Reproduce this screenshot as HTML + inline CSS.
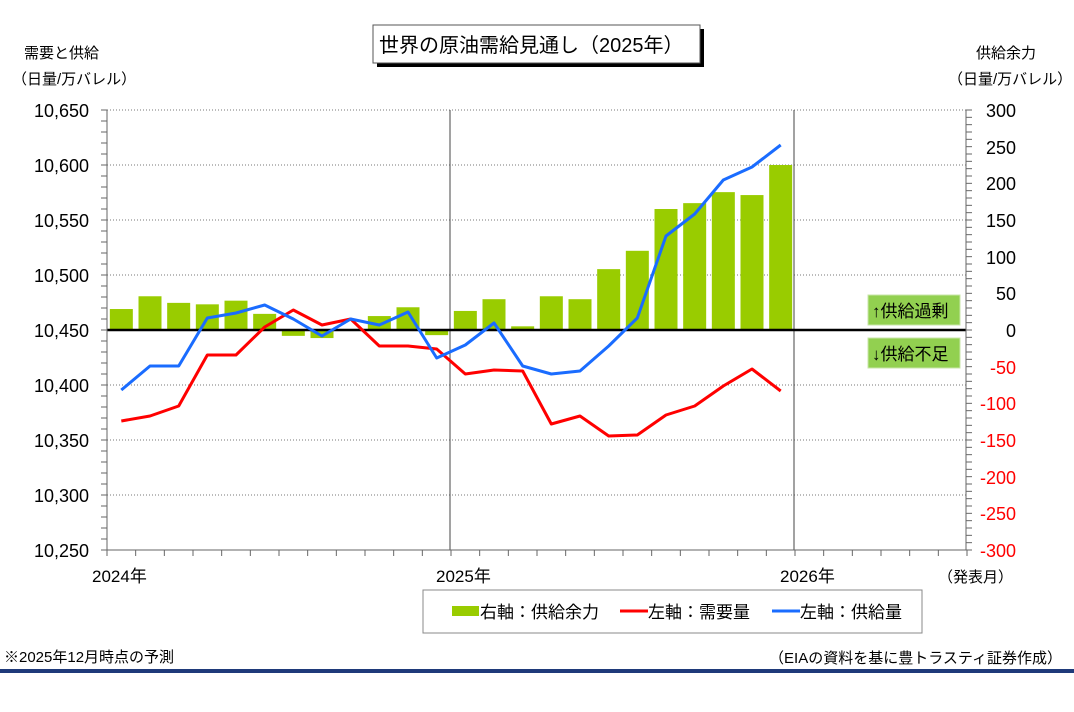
<!DOCTYPE html>
<html><head><meta charset="utf-8"><style>
body{margin:0;background:#fff;}
svg text{font-family:"Liberation Sans","Noto Sans CJK JP",sans-serif;}
</style></head><body>
<svg id="s" width="1074" height="707" viewBox="0 0 1074 707" xmlns="http://www.w3.org/2000/svg">
<rect width="1074" height="707" fill="#fff"/>
<g id="grid"></g>
<g id="bars"></g>
<line x1="107" y1="330" x2="966" y2="330" stroke="#000" stroke-width="2.5"/>
<polyline id="red" fill="none" stroke="#ff0000" stroke-width="3" stroke-linejoin="round"/>
<polyline id="blue" fill="none" stroke="#1a6cff" stroke-width="3" stroke-linejoin="round"/>
<g id="axes"></g>
<rect x="377" y="29" width="327" height="38" fill="#000"/>
<rect x="373" y="25" width="327" height="38" fill="#fff" stroke="#555" stroke-width="1"/>
<text x="379" y="52" font-size="20">世界の原油需給見通し（2025年）</text>
<text x="24" y="58" font-size="15">需要と供給</text>
<text x="12" y="84" font-size="15">（日量/万バレル）</text>
<text x="976" y="58" font-size="15">供給余力</text>
<text x="948" y="84" font-size="15">（日量/万バレル）</text>
<g font-size="18" text-anchor="end">
<text x="89" y="117">10,650</text><text x="89" y="172">10,600</text><text x="89" y="227">10,550</text><text x="89" y="282">10,500</text><text x="89" y="337">10,450</text><text x="89" y="392">10,400</text><text x="89" y="447">10,350</text><text x="89" y="502">10,300</text><text x="89" y="557">10,250</text>
</g>
<g font-size="18" text-anchor="end">
<text x="1016" y="117">300</text><text x="1016" y="154">250</text><text x="1016" y="190">200</text><text x="1016" y="227">150</text><text x="1016" y="264">100</text><text x="1016" y="300">50</text><text x="1016" y="337">0</text>
<g fill="#ff0000"><text x="1016" y="374">-50</text><text x="1016" y="410">-100</text><text x="1016" y="447">-150</text><text x="1016" y="484">-200</text><text x="1016" y="520">-250</text><text x="1016" y="557">-300</text></g>
</g>
<g font-size="17"><text x="92" y="582">2024年</text><text x="436" y="582">2025年</text><text x="780" y="582">2026年</text><text x="938" y="582" font-size="15">（発表月）</text></g>
<rect x="868" y="295" width="92" height="30" fill="#92d050" stroke="#c8e6a8"/>
<text x="872" y="317" font-size="17">↑供給過剰</text>
<rect x="868" y="338" width="92" height="30" fill="#92d050" stroke="#c8e6a8"/>
<text x="872" y="360" font-size="17">↓供給不足</text>
<rect x="423" y="590" width="499" height="43" fill="#fff" stroke="#888"/>
<rect x="452" y="606" width="27" height="10" fill="#99cc00"/>
<text x="480" y="618" font-size="17">右軸：供給余力</text>
<line x1="620" y1="611" x2="648" y2="611" stroke="#ff0000" stroke-width="3"/>
<text x="648" y="618" font-size="17">左軸：需要量</text>
<line x1="772" y1="611" x2="800" y2="611" stroke="#1a6cff" stroke-width="3"/>
<text x="800" y="618" font-size="17">左軸：供給量</text>
<text x="4" y="662" font-size="15">※2025年12月時点の予測</text>
<text x="1062" y="663" font-size="15" text-anchor="end">（EIAの資料を基に豊トラスティ証券作成）</text>
<rect x="0" y="669" width="1074" height="4" fill="#1f3a7a"/>
</svg>
<script>
var NS="http://www.w3.org/2000/svg";
function el(p,t,a){var e=document.createElementNS(NS,t);for(var k in a)e.setAttribute(k,a[k]);document.getElementById(p).appendChild(e);}
for(var i=0;i<8;i++){var y=110+i*55;if(y==330)continue;el("grid","line",{x1:107,y1:y,x2:966,y2:y,stroke:"#777","stroke-dasharray":"1,2","stroke-width":1});}
el("grid","line",{x1:450,y1:110,x2:450,y2:550,stroke:"#444","stroke-width":1});
el("grid","line",{x1:794,y1:110,x2:794,y2:550,stroke:"#444","stroke-width":1});
var m=344/12;
var b=[28.6,46,37,35,40,22,-8,-11,1,19,31,-7,26,42,5,46,42,83,108,165,173,188,184,225];
b.forEach(function(v,i){var c=107+m*(i+.5);var h=v*0.7333;el("bars","rect",{x:c-11.5,y:h>0?330-h:330,width:23,height:Math.abs(h),fill:"#99cc00"});});
var bl=[390,366,366,318,313,305,319,336,319,325,312,358,345,323,366,374,371,346,318,236,214,180,167,145];
var rd=[421,416,406,355,355,327,310,325,319,346,346,349,374,370,371,424,416,436,435,415,406,386,369,391];
function pts(a){return a.map(function(y,i){return (107+m*(i+.5)).toFixed(1)+","+y;}).join(" ");}
document.getElementById("blue").setAttribute("points",pts(bl));
document.getElementById("red").setAttribute("points",pts(rd));
el("axes","line",{x1:107,y1:110,x2:107,y2:550,stroke:"#666"});
el("axes","line",{x1:966,y1:110,x2:966,y2:550,stroke:"#666"});
el("axes","line",{x1:107,y1:550,x2:966,y2:550,stroke:"#666"});
for(var y=110;y<=550.1;y+=11)el("axes","line",{x1:101,y1:y,x2:107,y2:y,stroke:"#666"});
for(var y=110;y<=550.1;y+=220/30)el("axes","line",{x1:966,y1:y,x2:972,y2:y,stroke:"#666"});
for(var i=0;i<=30;i++){var x=107+m*i;el("axes","line",{x1:x,y1:550,x2:x,y2:556,stroke:"#666"});}
</script>
</body></html>
